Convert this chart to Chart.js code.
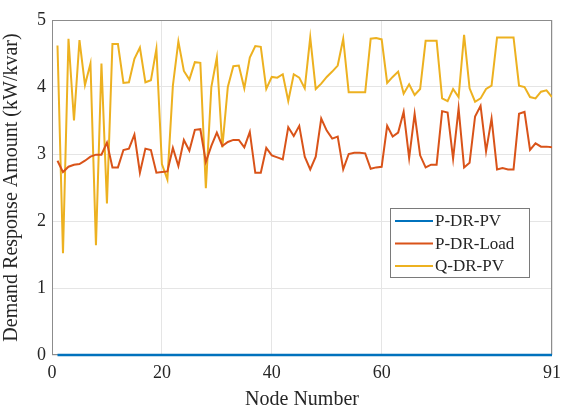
<!DOCTYPE html>
<html>
<head>
<meta charset="utf-8">
<script src="https://cdn.jsdelivr.net/npm/chart.js@4.4.1/dist/chart.umd.min.js"></script>
<style>
  html, body { margin: 0; padding: 0; background: #fff; }
  #wrap { width: 570px; height: 412px; }
</style>
</head>
<body>
<div id="wrap"><canvas id="chart" width="570" height="412"></canvas></div>
<script>
// node numbers 1..91
const nodes = [
  1, 2, 3, 4, 5, 6, 7, 8, 9, 10, 11, 12, 13, 14, 15, 16, 17, 18, 19, 20,
  21, 22, 23, 24, 25, 26, 27, 28, 29, 30, 31, 32, 33, 34, 35, 36, 37, 38, 39, 40,
  41, 42, 43, 44, 45, 46, 47, 48, 49, 50, 51, 52, 53, 54, 55, 56, 57, 58, 59, 60,
  61, 62, 63, 64, 65, 66, 67, 68, 69, 70, 71, 72, 73, 74, 75, 76, 77, 78, 79, 80,
  81, 82, 83, 84, 85, 86, 87, 88, 89, 90, 91
]

const pDrPv = nodes.map(() => 0)

const pDrLoad = [
  2.90, 2.73, 2.81, 2.84, 2.85, 2.90, 2.96, 2.99, 2.99, 3.17,
  2.80, 2.80, 3.06, 3.08, 3.29, 2.72, 3.08, 3.06, 2.72, 2.73,
  2.74, 3.09, 2.82, 3.21, 3.05, 3.36, 3.37, 2.88, 3.12, 3.32,
  3.12, 3.18, 3.21, 3.21, 3.10, 3.33, 2.72, 2.72, 3.09, 2.98,
  2.95, 2.92, 3.40, 3.27, 3.42, 2.96, 2.77, 2.96, 3.53, 3.35,
  3.23, 3.26, 2.77, 3.00, 3.02, 3.02, 3.01, 2.78, 2.80, 2.81,
  3.42, 3.26, 3.32, 3.63, 2.94, 3.60, 2.98, 2.80, 2.84, 2.84,
  3.64, 3.62, 2.93, 3.68, 2.80, 2.87, 3.56, 3.72, 3.04, 3.53,
  2.77, 2.79, 2.77, 2.77, 3.60, 3.63, 3.06, 3.16, 3.11, 3.11,
  3.10
]

const qDrPv = [
  4.62, 1.52, 4.72, 3.50, 4.70, 4.03, 4.35, 1.64, 4.35, 2.26,
  4.64, 4.64, 4.06, 4.07, 4.42, 4.59, 4.07, 4.10, 4.57, 2.85,
  2.62, 4.02, 4.68, 4.24, 4.11, 4.37, 4.36, 2.49, 4.00, 4.44,
  3.10, 4.00, 4.31, 4.32, 3.98, 4.44, 4.61, 4.60, 3.97, 4.15,
  4.14, 4.19, 3.79, 4.19, 4.14, 3.98, 4.74, 3.97, 4.05, 4.15,
  4.23, 4.32, 4.72, 3.92, 3.92, 3.92, 3.92, 4.72, 4.73, 4.71,
  4.06, 4.15, 4.23, 3.90, 4.04, 3.88, 3.97, 4.69, 4.69, 4.69,
  3.83, 3.79, 3.97, 3.85, 4.78, 3.98, 3.78, 3.83, 3.97, 4.02,
  4.74, 4.74, 4.74, 4.74, 4.02, 4.00, 3.85, 3.83, 3.93, 3.95,
  3.85
]

const xTicks = [0, 20, 40, 60, 91]
const seriesNames = ['P-DR-PV', 'P-DR-Load', 'Q-DR-PV']
const colors = ['#0072BD', '#D95319', '#EDB120']
const font = "'Liberation Serif', 'Times New Roman', serif"

const toPoints = (vals) => vals.map((v, i) => ({ x: nodes[i], y: v }))

// box around the plot area (under the lines)
const plotBox = {
  id: 'plotBox',
  beforeDatasetsDraw(chart) {
    const { ctx, chartArea: a } = chart
    ctx.save()
    ctx.strokeStyle = '#8c8c8c'
    ctx.lineWidth = 1
    ctx.strokeRect(a.left + 0.5, a.top + 0.5, a.right - a.left - 1, a.bottom - a.top - 1)
    ctx.restore()
  }
}

// legend drawn inside the plot, lower right
const innerLegend = {
  id: 'innerLegend',
  afterDatasetsDraw(chart) {
    const { ctx } = chart
    const lx = 390, ly = 208, lw = 139, lh = 69
    ctx.save()
    ctx.fillStyle = '#fff'
    ctx.fillRect(lx, ly, lw, lh)
    ctx.strokeStyle = '#7a7a7a'
    ctx.lineWidth = 1
    ctx.strokeRect(lx + 0.5, ly + 0.5, lw, lh)
    ctx.font = '17px ' + font
    ctx.textBaseline = 'middle'
    chart.data.datasets.forEach((ds, i) => {
      const yy = ly + 13 + i * 22.5
      ctx.strokeStyle = ds.borderColor
      ctx.lineWidth = 2
      ctx.beginPath()
      ctx.moveTo(lx + 5, yy)
      ctx.lineTo(lx + 43, yy)
      ctx.stroke()
      ctx.fillStyle = '#262626'
      ctx.fillText(ds.label, lx + 45, yy + 1)
    })
    ctx.restore()
  }
}

new Chart(document.getElementById('chart'), {
  type: 'line',
  data: {
    datasets: [{
      label: seriesNames[0],
      data: toPoints(pDrPv),
      borderColor: colors[0],
      borderWidth: 2.5,
      pointRadius: 0,
      tension: 0,
      clip: false
    }, {
      label: seriesNames[1],
      data: toPoints(pDrLoad),
      borderColor: colors[1],
      borderWidth: 2,
      pointRadius: 0,
      tension: 0
    }, {
      label: seriesNames[2],
      data: toPoints(qDrPv),
      borderColor: colors[2],
      borderWidth: 2,
      pointRadius: 0,
      tension: 0
    }]
  },
  options: {
    responsive: false,
    animation: false,
    layout: { padding: { top: 20, right: 18, left: 0, bottom: 0 } },
    plugins: {
      legend: { display: false },
      tooltip: { enabled: false }
    },
    scales: {
      x: {
        type: 'linear',
        min: 0,
        max: 91,
        afterBuildTicks: (axis) => { axis.ticks = xTicks.map(v => ({ value: v })) },
        afterFit: (scale) => { scale.height = 57 },
        grid: { color: '#e5e5e5', drawTicks: false },
        border: { display: false },
        ticks: { color: '#262626', font: { family: font, size: 18 }, padding: 7, maxRotation: 0, autoSkip: false },
        title: { display: true, text: 'Node Number', color: '#262626', font: { family: font, size: 20 }, padding: { top: 0, bottom: 0 } }
      },
      y: {
        min: 0,
        max: 5,
        ticks: { stepSize: 1, color: '#262626', font: { family: font, size: 18 }, padding: 6 },
        afterFit: (scale) => { scale.width = 52 },
        grid: { color: '#e5e5e5', drawTicks: false },
        border: { display: false },
        title: { display: true, text: 'Demand Response Amount (kW/kvar)', color: '#262626', font: { family: font, size: 20 }, padding: { top: 0, bottom: 0 } }
      }
    }
  },
  plugins: [plotBox, innerLegend]
})
</script>
</body>
</html>
